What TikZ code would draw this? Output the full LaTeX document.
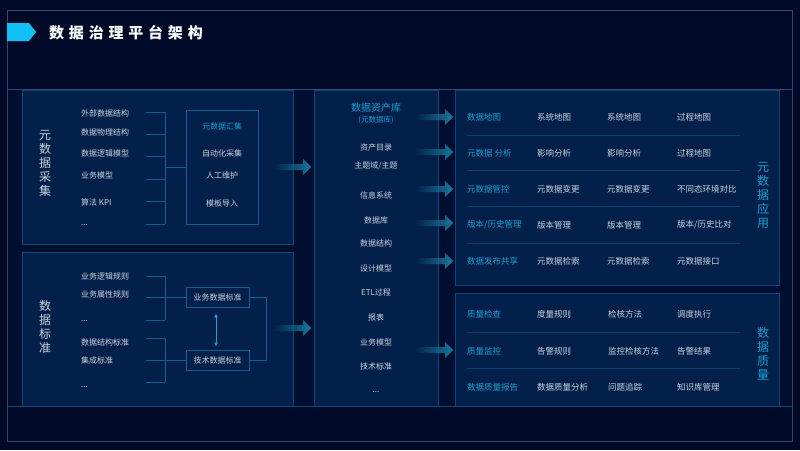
\documentclass[tikz,border=0pt]{standalone}
\usepackage{fontspec}
\setmainfont{Noto Sans CJK SC}
\usetikzlibrary{arrows.meta,fadings}

\definecolor{fond}{HTML}{000A28}
\definecolor{bande}{HTML}{000E30}
\definecolor{panneau}{HTML}{03204A}
\definecolor{bord}{HTML}{0B4A78}
\definecolor{cadre}{HTML}{3A4868}
\definecolor{lien}{HTML}{11608F}
\definecolor{texte}{HTML}{C9D2DC}
\definecolor{cyanlbl}{HTML}{1A9FD0}
\definecolor{lueur}{HTML}{1FB8F0}
\definecolor{flux}{HTML}{1B7BA0}
\definecolor{marque}{HTML}{12C0F5}

\tikzfading[name=fluxfade, left color=transparent!100, right color=transparent!0]
\tikzfading[name=hfade, left color=transparent!100, middle color=transparent!0, right color=transparent!100]
\tikzfading[name=vfade, top color=transparent!100, middle color=transparent!0, bottom color=transparent!100]

\newcommand{\etc}{...}

\tikzset{
  boite/.style={draw=bord, fill=panneau, line width=0.8pt},
  item/.style={anchor=west, text=texte, inner sep=0pt, font=\fontsize{8}{9}\selectfont},
  cell/.style={anchor=west, text=texte, inner sep=0pt, font=\fontsize{8.5}{10}\selectfont},
  lbl/.style={cell, text=cyanlbl},
  centre/.style={text=texte, inner sep=0pt, font=\fontsize{8}{9}\selectfont},
  vtitre/.style={align=center, text=texte, inner sep=0pt, font=\fontsize{12}{14}\selectfont},
  lienl/.style={draw=lien, line width=0.8pt},
  norme/.style={draw=lien, fill=panneau, line width=0.8pt, minimum width=63pt, minimum height=20pt,
    text=texte, font=\fontsize{8}{9}\selectfont},
  sep/.style={draw=bord!80!panneau, line width=0.6pt},
  fleche/.pic={\fill[flux, path fading=fluxfade] (-38,-3) -- (-8,-3) -- (-8,-8) -- (0,0) -- (-8,8) -- (-8,3) -- (-38,3) -- cycle;}
}

\begin{document}
\begin{tikzpicture}[x=1pt, y=-1pt]
  \useasboundingbox (0,0) rectangle (800,450);
  % Fond et cadre
  \fill[fond] (0,0) rectangle (800,450);
  \fill[bande] (7,89) rectangle (792,406);
  \draw[cadre, line width=0.8pt] (7,10) rectangle (792,441);
  \draw[cadre, line width=0.8pt] (7,89) -- (792,89);

  % Titre
  \fill[marque] (7,23) -- (29,23) -- (36,32) -- (29,41) -- (7,41) -- cycle;
  \node[anchor=west, inner sep=0pt, text=white, font=\fontsize{15}{18}\bfseries\addfontfeature{LetterSpace=32}] (titre) at (49,33) {数据治理平台架构};

  % Panneaux
  \draw[boite] (22,90) rectangle (293,244);
  \draw[boite] (22,252) rectangle (293,406);
  \draw[boite] (314,90) rectangle (438,406);
  \draw[boite] (455,90) rectangle (779,285);
  \draw[boite] (455,293) rectangle (779,406);
  \draw[bord, line width=1pt] (7,406) -- (792,406);

  % Collecte des metadonnees
  \node[vtitre] (collecte) at (45,163) {元\\数\\据\\采\\集};
  \foreach \t/\ty/\ly [count=\i] in {外部数据结构/113/112, 数据物理结构/132/134, 数据逻辑模型/153/156,
      业务模型/175/179, 算法 KPI/202/201, \etc/225/224}{
    \node[item] (src\i) at (81,\ty) {\t};
    \draw[lienl] (146,\ly) -- (165,\ly);
  }
  \draw[lienl] (165,112) -- (165,224);
  \draw[boite, draw=lien] (186,110) rectangle (258,224);
  \coordinate (hui) at (186,167);
  \draw[lienl] (165,167) -- (hui);
  \node[centre, text=cyanlbl] (huiji) at (222,126) {元数据汇集};
  \fill[lueur, path fading=hfade] (197,137.3) rectangle (247,138.7);
  \node[centre] (auto) at (222,153) {自动化采集};
  \node[centre] (manuel) at (222,175) {人工维护};
  \node[centre] (modele) at (222,203) {模板导入};
  \pic at (311,167) {fleche};

  % Normes de donnees
  \node[vtitre] (normes) at (45,327) {数\\据\\标\\准};
  \foreach \t/\ty [count=\i] in {业务逻辑规则/276, 业务属性规则/294, \etc/321,
      数据结构标准/342, 集成标准/360, \etc/387}{
    \node[item] (std\i) at (81,\ty) {\t};
  }
  \node[norme] (biz) at (217.5,297) {业务数据标准};
  \node[norme] (tech) at (217.5,360) {技术数据标准};
  \foreach \y in {276,320,338,382} \draw[lienl] (146,\y) -- (165,\y);
  \draw[lienl] (165,276) -- (165,320);
  \draw[lienl] (165,338) -- (165,382);
  \draw[lienl] (146,297) -- (biz.west);
  \draw[lienl] (146,360) -- (tech.west);
  \draw[lienl] (biz.east) -- ++(17,0) |- (tech.east);
  \draw[draw=lueur!70!lien, line width=0.9pt, {Latex[length=4pt,width=4pt]}-{Latex[length=4pt,width=4pt]},
    shorten <=6pt, shorten >=3pt] ([xshift=-1.5pt]biz.south) -- ([xshift=-1.5pt]tech.north);
  \pic at (311,328) {fleche};

  % Catalogue des actifs
  \node[inner sep=0pt, text=cyanlbl, font=\fontsize{10}{12}\selectfont] (actifs) at (376,108) {数据资产库};
  \node[inner sep=0pt, text=cyanlbl, font=\fontsize{7.5}{9}\selectfont] (metabase) at (376,120) {(元数据库)};
  \fill[lueur, path fading=hfade] (350,132.3) rectangle (404,133.7);
  \foreach \t/\y [count=\i] in {资产目录/147, {主题域/主题}/166, 信息系统/195, 数据库/220, 数据结构/243,
      设计模型/268, ETL过程/292, 报表/317, 业务模型/342, 技术标准/366, \etc/392}{
    \node[centre] (cat\i) at (376,\y) {\t};
  }
  \foreach \y in {117,152,189,223,261,350} \pic at (453,\y) {fleche};

  % Applications des metadonnees
  \foreach \a/\b/\c/\d/\y [count=\i] in {数据地图/系统地图/系统地图/过程地图/117,
      元数据 分析/影响分析/影响分析/过程地图/153,
      元数据管控/元数据变更/元数据变更/不同态环境对比/189,
      {版本/历史管理}/版本管理/版本管理/{版本/历史比对}/225,
      数据发布共享/元数据检索/元数据检索/元数据接口/261}{
    \node[lbl] (app\i) at (467,\y) {\a};
    \node[cell] (appb\i) at (537,\y) {\b};
    \node[cell] (appc\i) at (607,\y) {\c};
    \node[cell] (appd\i) at (677,\y) {\d};
  }
  \foreach \y in {135,170,206,243} \draw[sep] (467,\y) -- (740,\y);
  \fill[lueur, path fading=vfade] (748,158) rectangle (750.5,232);
  \node[vtitre, text=cyanlbl] (usage) at (763,195) {元\\数\\据\\应\\用};

  % Qualite des donnees
  \foreach \a/\b/\c/\d/\y [count=\i] in {质量检查/度量规则/检核方法/调度执行/314,
      质量监控/告警规则/监控检核方法/告警结果/351,
      数据质量报告/数据质量分析/问题追踪/知识库管理/387}{
    \node[lbl] (qa\i) at (467,\y) {\a};
    \node[cell] (qb\i) at (537,\y) {\b};
    \node[cell] (qc\i) at (608,\y) {\c};
    \node[cell] (qd\i) at (677,\y) {\d};
  }
  \foreach \y in {332,368} \draw[sep] (467,\y) -- (740,\y);
  \fill[lueur, path fading=vfade] (748,325) rectangle (750.5,382);
  \node[vtitre, text=cyanlbl] (qualite) at (763,354) {数\\据\\质\\量};
\end{tikzpicture}
\end{document}
